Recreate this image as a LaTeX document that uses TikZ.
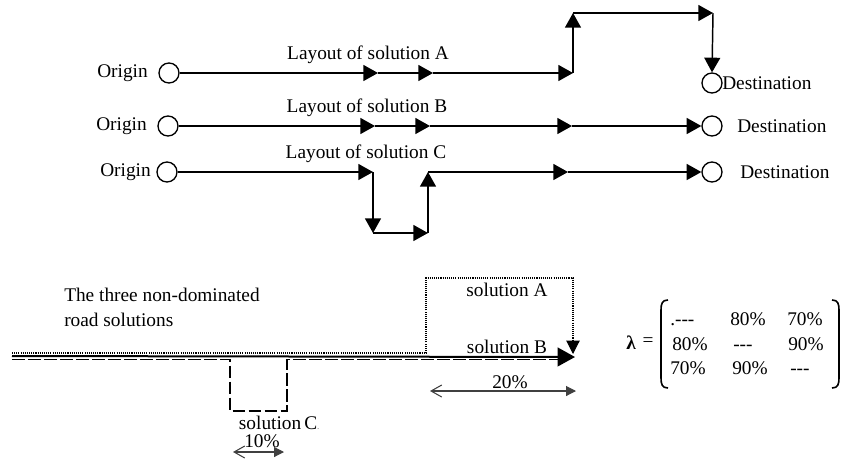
\documentclass[tikz,border=0pt]{standalone}
\usepackage{fontspec}
\setmainfont{Liberation Serif}
\usetikzlibrary{arrows.meta}

\newcommand{\nodash}{\mbox{-}\mbox{-}\mbox{-}}

\begin{document}
\begin{tikzpicture}[x=0.75pt,y=0.75pt,yscale=-1,
  lbl/.style={inner sep=0.75pt, font=\fontsize{14.5}{18.75}\selectfont},
  entry/.style={lbl, anchor=base west},
  road/.style={line width=1.1pt, -{Triangle[length=11pt,width=12pt]}},
  endpt/.style={draw, circle, line width=1pt, minimum size=15pt, inner sep=0pt},
  solA/.style={line width=0.8pt, dash pattern=on 0.8pt off 0.8pt, -{Triangle[length=10pt,width=10pt]}},
  solB/.style={line width=1.5pt, -{Triangle[length=13pt,width=14pt]}},
  solC/.style={line width=1.3pt, dash pattern=on 9.5pt off 2.5pt},
  span/.style={line width=0.8pt, draw=black!75, {Straight Barb[length=8pt,width=9pt]}-{Triangle[length=7.5pt,width=7.5pt]}}]
\useasboundingbox (0,0) rectangle (845,461);

%Origin and destination circles
\node [endpt] (oA) at (169,73) {};
\node [endpt] (oB) at (168,126) {};
\node [endpt] (oC) at (167,172) {};
\node [endpt] (dA) at (712,83) {};
\node [endpt] (dB) at (712,126) {};
\node [endpt] (dC) at (712,172) {};

% Text Node
\node [lbl, anchor=east] (tA) at (149,73) {Origin};
\node [lbl, anchor=east] (tB) at (148,126) {Origin};
\node [lbl, anchor=east] (tC) at (152,172) {Origin};
\node [lbl, anchor=west] (eA) at (721,83) {Destination};
\node [lbl, anchor=west] (eB) at (736,126) {Destination};
\node [lbl, anchor=west] (eC) at (739,172) {Destination};
\node [lbl] (lA) at (368,55) {Layout of solution A};
\node [lbl] (lB) at (367,108) {Layout of solution B};
\node [lbl] (lC) at (366,154) {Layout of solution C};

%Layout A
\coordinate (a1) at (378,73);
\coordinate (a2) at (433,73);
\coordinate (a3) at (573,73);
\coordinate (a4) at (573,13);
\coordinate (a5) at (713,13);
\draw [road] (oA.east) -- (a1);
\draw [road] (a1) -- (a2);
\draw [road] (a2) -- (a3);
\draw [road] (a3) -- (a4);
\draw [road] (a4) -- (a5);
\draw [road] (a5) -- (dA.north);

%Layout B
\coordinate (b1) at (375,126);
\coordinate (b2) at (430,126);
\coordinate (b3) at (572,126);
\draw [road] (oB.east) -- (b1);
\draw [road] (b1) -- (b2);
\draw [road] (b2) -- (b3);
\draw [road] (b3) -- (dB.west);

%Layout C
\coordinate (c1) at (373,172);
\coordinate (c2) at (373,233);
\coordinate (c3) at (428,233);
\coordinate (c4) at (428,172);
\coordinate (c5) at (568,172);
\draw [road] (oC.east) -- (c1);
\draw [road] (c1) -- (c2);
\draw [road] (c2) -- (c3);
\draw [road] (c3) -- (c4);
\draw [road] (c4) -- (c5);
\draw [road] (c5) -- (dC.west);

% Text Node
\node [lbl, anchor=west, align=left] (three) at (63,307) {The three non-dominated\\road solutions};

%The three solutions on one line
\coordinate (sA0) at (12,353);
\coordinate (sA1) at (426,353);
\coordinate (sA2) at (426,278);
\coordinate (sA3) at (573,278);
\coordinate (sA4) at (573,354);
\draw [solA] (sA0) -- (sA1) -- (sA2) -- (sA3) -- (sA4);
\coordinate (sB0) at (12,356);
\coordinate (sB1) at (575,357);
\draw [solB] (sB0) -- (sB1);
\coordinate (sC0) at (12,359.5);
\coordinate (sC1) at (230,359.5);
\coordinate (sC2) at (230,411);
\coordinate (sC3) at (287,411);
\coordinate (sC4) at (287,359.5);
\coordinate (sC5) at (562,359.5);
\draw [solC] (sC0) -- (sC1) -- (sC2) -- (sC3) -- (sC4) -- (sC5);

% Text Node
\node [lbl] (nA) at (507,290) {solution A};
\node [lbl] (nB) at (507,347) {solution B};
\node [lbl] (nC) at (279,423) {solution\,C{\tiny.}};
\node [lbl] (p20) at (510,382) {20\%};
\node [lbl] (p10) at (262,441) {10\%};

%Shares
\coordinate (w1) at (430,391);
\coordinate (w2) at (576,391);
\draw [span] (w1) -- (w2);
\coordinate (v1) at (233,452);
\coordinate (v2) at (284,452);
\draw [span] (v1) -- (v2);

%Matrix
\node [lbl] (lam) at (631,343) {\bfseries λ};
\node [lbl] (eq) at (648,342) {=};
\draw [line width=1.2pt] (668,300) .. controls (662,300) and (661,304) .. (661,310) -- (661,378) .. controls (661,384) and (662,388) .. (668,388);
\draw [line width=1.2pt] (832,300) .. controls (838,300) and (839,304) .. (839,310) -- (839,378) .. controls (839,384) and (838,388) .. (832,388);
\node [entry] (m11) at (669,325) {.\nodash};
\node [entry] (m12) at (729,325) {80\%};
\node [entry] (m13) at (786,325) {70\%};
\node [entry] (m21) at (671,350) {80\%};
\node [entry] (m22) at (732,350) {\nodash};
\node [entry] (m23) at (787,350) {90\%};
\node [entry] (m31) at (669,374) {70\%};
\node [entry] (m32) at (731,374) {90\%};
\node [entry] (m33) at (789,374) {\nodash};

\end{tikzpicture}
\end{document}
